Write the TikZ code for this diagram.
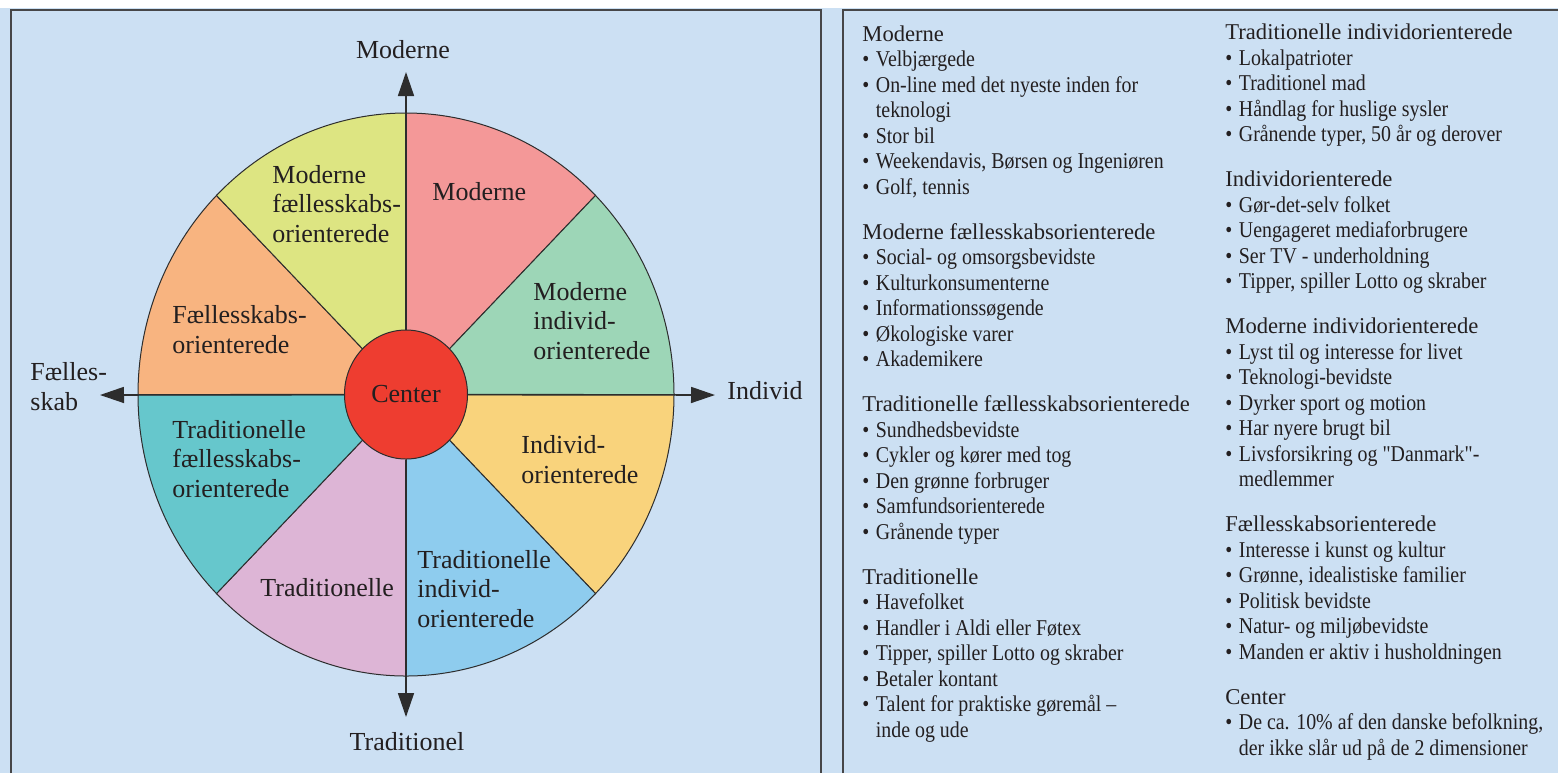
\documentclass[tikz,border=0pt]{standalone}
\usepackage{fontspec}
\setmainfont{Liberation Serif}
\newfontfamily\listfont[FakeStretch=0.88]{Liberation Serif}
\usetikzlibrary{arrows.meta,shapes.geometric}

\definecolor{bgblue}{RGB}{204,224,243}
\definecolor{framegray}{RGB}{70,70,72}
\definecolor{linegray}{RGB}{45,45,45}
\definecolor{textblack}{RGB}{35,31,32}
\definecolor{cmod}{RGB}{244,152,152}
\definecolor{cmodind}{RGB}{157,214,183}
\definecolor{cind}{RGB}{249,211,124}
\definecolor{ctradind}{RGB}{142,204,238}
\definecolor{ctrad}{RGB}{221,181,214}
\definecolor{ctradfael}{RGB}{102,199,204}
\definecolor{cfael}{RGB}{248,180,128}
\definecolor{cmodfael}{RGB}{221,229,130}
\definecolor{centerred}{RGB}{238,61,48}

\newcommand{\itm}{\makebox[6.75pt][l]{\textbullet}}
\newcommand{\cont}{\hspace*{6.75pt}}
\newcommand{\hd}[1]{{\rmfamily #1}}

\begin{document}
\begin{tikzpicture}[x=0.5pt, y=-0.5pt,
    frame/.style={draw=framegray, line width=1pt},
    axis/.style={draw=linegray, line width=0.8pt, -{Triangle[length=12pt,width=8pt]}},
    sectorlabel/.style={anchor=base west, inner sep=0pt, align=left,
      font=\fontsize{13}{14.75}\selectfont, text=textblack},
    axislabel/.style={inner sep=0pt, font=\fontsize{13}{14.75}\selectfont, text=textblack},
    listcol/.style={anchor=base west, inner sep=0pt, align=left,
      font=\listfont\fontsize{11.3}{12.75}\selectfont, text=textblack}]

    \useasboundingbox (0,0) rectangle (1558,773);
    % Background and panel frames
    \fill[bgblue] (0,8) rectangle (1558,773);
    \draw[frame] (11,773) -- (11,10) -- (821,10) -- (821,773);
    \draw[frame] (843,773) -- (843,10) -- (1558,10);

    % Wheel of eight segments
    \begin{scope}[shift={(406,394.5)}]
        \foreach \a/\col in {-90/cmod, -45/cmodind, 0/cind, 45/ctradind,
                             90/ctrad, 135/ctradfael, 180/cfael, 225/cmodfael}
            \filldraw[fill=\col, draw=linegray, line width=0.5pt] (0,0) -- (\a:268 and 281.5)
                arc[start angle=\a, end angle=\a+45, x radius=268, y radius=281.5] -- cycle;
    \end{scope}

    % Center and axes
    \coordinate (up) at (406,72);
    \coordinate (down) at (406,717);
    \coordinate (west) at (100,395);
    \coordinate (east) at (715,395);
    \node[ellipse, fill=centerred, draw=linegray, line width=0.5pt, minimum width=61.5pt,
          minimum height=64.5pt, inner sep=0pt, font=\fontsize{13}{14.75}\selectfont,
          text=textblack] (center) at (406,394.5) {Center};
    \draw[axis] (center) -- (up);
    \draw[axis] (center) -- (down);
    \draw[axis] (center) -- (west);
    \draw[axis] (center) -- (east);

    % Axis labels (base = last line)
    \node[axislabel, anchor=base] (modlabel) at (403,58) {Moderne};
    \node[axislabel, anchor=base] (tradlabel) at (407,750) {Traditionel};
    \node[axislabel, anchor=base west] (indlabel) at (727,399) {Individ};
    \node[axislabel, anchor=base west, align=left] (faellabel) at (30,410) {Fælles-\\skab};

    % Segment labels
    \node[sectorlabel] (smod) at (432,200) {Moderne};
    \node[sectorlabel] (smodind) at (533,359) {Moderne\\individ-\\orienterede};
    \node[sectorlabel] (sind) at (521,483) {Individ-\\orienterede};
    \node[sectorlabel] (stradind) at (417,627) {Traditionelle\\individ-\\orienterede};
    \node[sectorlabel] (strad) at (260,596) {Traditionelle};
    \node[sectorlabel] (stradfael) at (172,497) {Traditionelle\\fællesskabs-\\orienterede};
    \node[sectorlabel] (sfael) at (172,353) {Fællesskabs-\\orienterede};
    \node[sectorlabel] (smodfael) at (272,242) {Moderne\\fællesskabs-\\orienterede};

    % Descriptions, first column
    \node[listcol] (listleft) at (862,737) {\hd{Moderne}\\
        \itm Velbjærgede\\
        \itm On-line med det nyeste inden for\\
        \cont teknologi\\
        \itm Stor bil\\
        \itm Weekendavis, Børsen og Ingeniøren\\
        \itm Golf, tennis\\[9.75pt]
        \hd{Moderne fællesskabsorienterede}\\
        \itm Social- og omsorgsbevidste\\
        \itm Kulturkonsumenterne\\
        \itm Informationssøgende\\
        \itm Økologiske varer\\
        \itm Akademikere\\[9.75pt]
        \hd{Traditionelle fællesskabsorienterede}\\
        \itm Sundhedsbevidste\\
        \itm Cykler og kører med tog\\
        \itm Den grønne forbruger\\
        \itm Samfundsorienterede\\
        \itm Grånende typer\\[9.75pt]
        \hd{Traditionelle}\\
        \itm Havefolket\\
        \itm Handler i Aldi eller Føtex\\
        \itm Tipper, spiller Lotto og skraber\\
        \itm Betaler kontant\\
        \itm Talent for praktiske gøremål –\\
        \cont inde og ude};

    % Descriptions, second column
    \node[listcol] (listright) at (1225,755) {\hd{Traditionelle individorienterede}\\
        \itm Lokalpatrioter\\
        \itm Traditionel mad\\
        \itm Håndlag for huslige sysler\\
        \itm Grånende typer, 50 år og derover\\[9.75pt]
        \hd{Individorienterede}\\
        \itm Gør-det-selv folket\\
        \itm Uengageret mediaforbrugere\\
        \itm Ser TV - underholdning\\
        \itm Tipper, spiller Lotto og skraber\\[9.75pt]
        \hd{Moderne individorienterede}\\
        \itm Lyst til og interesse for livet\\
        \itm Teknologi-bevidste\\
        \itm Dyrker sport og motion\\
        \itm Har nyere brugt bil\\
        \itm Livsforsikring og "Danmark"-\\
        \cont medlemmer\\[9.75pt]
        \hd{Fællesskabsorienterede}\\
        \itm Interesse i kunst og kultur\\
        \itm Grønne, idealistiske familier\\
        \itm Politisk bevidste\\
        \itm Natur- og miljøbevidste\\
        \itm Manden er aktiv i husholdningen\\[9.75pt]
        \hd{Center}\\
        \itm De ca. 10\% af den danske befolkning,\\
        \cont der ikke slår ud på de 2 dimensioner};
\end{tikzpicture}
\end{document}
